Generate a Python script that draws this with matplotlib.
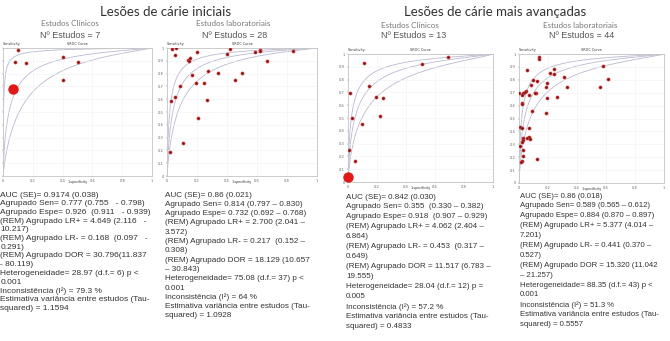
import numpy as np
import matplotlib.pyplot as plt

W, H = 670, 341

# ---- data (fpr = 1-specificity, sens = sensitivity) ----
p1_fpr = [0.103, 0.081, 0.154, 0.40, 0.50, 0.40]
p1_sens = [0.984, 0.888, 0.880, 0.932, 0.893, 0.747]
p1_big = ([0.065], [0.68])
p1_curves = [(1.9, 0.9), (2.7, 0.85), (4.6, 0.8)]   # (intercept, slope) in logit space

p2_fpr = [0.031, 0.058, 0.052, 0.143, 0.156, 0.148, 0.197, 0.166, 0.270, 0.342,
          0.195, 0.246, 0.085, 0.054, 0.027, 0.268, 0.208, 0.107, 0.022, 0.400,
          0.423, 0.499, 0.452, 0.586, 0.617, 0.622, 0.667, 0.837]
p2_sens = [0.992, 0.998, 0.945, 0.906, 0.920, 0.900, 0.966, 0.787, 0.820, 0.802,
           0.727, 0.729, 0.703, 0.620, 0.584, 0.596, 0.455, 0.260, 0.190, 0.953,
           0.992, 0.807, 0.747, 0.971, 0.984, 0.979, 0.900, 0.979]
p2_curves = [(2.3, 0.9), (2.9, 0.9), (3.6, 0.9)]

p3_fpr = [0.113, 0.014, 0.147, 0.193, 0.239, 0.030, 0.218, 0.099, 0.005, 0.050,
          0.512, 0.687]
p3_sens = [0.932, 0.693, 0.752, 0.666, 0.658, 0.502, 0.518, 0.450, 0.250, 0.164,
           0.922, 0.979]
p3_big = ([0.0], [0.04])
p3_curves = [(1.8, 0.8), (2.4, 0.8), (3.0, 0.8)]

p4_fpr = [0.139, 0.135, 0.053, 0.098, 0.121, 0.214, 0.244, 0.244, 0.313, 0.329,
          0.190, 0.185, 0.080, 0.050, 0.043, 0.025, 0.002, 0.018, 0.070, 0.116,
          0.112, 0.021, 0.021, 0.190, 0.260, 0.091, 0.185, 0.007, 0.023, 0.068,
          0.025, 0.030, 0.053, 0.068, 0.075, 0.018, 0.007, 0.030, 0.025, 0.021,
          0.016, 0.121, 0.578, 0.616, 0.560]
p4_sens = [0.979, 0.964, 0.876, 0.798, 0.793, 0.850, 0.847, 0.881, 0.819, 0.747,
           0.778, 0.742, 0.757, 0.715, 0.707, 0.695, 0.695, 0.682, 0.682, 0.695,
           0.700, 0.622, 0.612, 0.656, 0.663, 0.558, 0.545, 0.432, 0.429, 0.429,
           0.351, 0.333, 0.346, 0.359, 0.339, 0.320, 0.287, 0.256, 0.209, 0.172,
           0.163, 0.186, 0.907, 0.806, 0.747]
p4_curves = [(2.0, 0.8), (2.6, 0.8), (3.2, 0.8)]

txt1 = ["AUC (SE)= 0.9174 (0.038)",
        "Agrupado Sen= 0.777 (0.755   - 0.798)",
        "Agrupado Espe= 0.926  (0.911   - 0.939)",
        "(REM) Agrupado LR+ = 4.649 (2.116   -",
        "10.217)",
        "(REM) Agrupado LR- = 0.168  (0.097   -",
        "0.291)",
        "(REM) Agrupado DOR = 30.796(11.837",
        "- 80.119)",
        "Heterogeneidade= 28.97 (d.f.= 6) p <",
        "0.001",
        "Inconsistência (I²) = 79.3 %",
        "Estimativa variância entre estudos (Tau-",
        "squared) = 1.1594"]
txt2 = ["AUC (SE)= 0.86 (0.021)",
        "Agrupado Sen= 0.814 (0.797 – 0.830)",
        "Agrupado Espe= 0.732 (0.692 – 0.768)",
        "(REM) Agrupado LR+ = 2.700 (2.041 –",
        "3.572)",
        "(REM) Agrupado LR- = 0.217  (0.152 –",
        "0.308)",
        "(REM) Agrupado DOR = 18.129 (10.657",
        "– 30.843)",
        "Heterogeneidade= 75.08 (d.f.= 37) p <",
        "0.001",
        "Inconsistência (I²) = 64 %",
        "Estimativa variância entre estudos (Tau-",
        "squared) = 1.0928"]
txt3 = ["AUC (SE)= 0.842 (0.030)",
        "Agrupado Sen= 0.355  (0.330 – 0.382)",
        "Agrupado Espe= 0.918  (0.907 – 0.929)",
        "(REM) Agrupado LR+ = 4.062 (2.404 –",
        "6.864)",
        "(REM) Agrupado LR- = 0.453  (0.317 –",
        "0.649)",
        "(REM) Agrupado DOR = 11.517 (6.783 –",
        "19.555)",
        "Heterogeneidade= 28.04 (d.f.= 12) p =",
        "0.005",
        "Inconsistência (I²) = 57.2 %",
        "Estimativa variância entre estudos (Tau-",
        "squared) = 0.4833"]
txt4 = ["AUC (SE)= 0.86 (0.018)",
        "Agrupado Sen= 0.589 (0.565 – 0.612)",
        "Agrupado Espe= 0.884 (0.870 – 0.897)",
        "(REM) Agrupado LR+ = 5.377 (4.014 –",
        "7.201)",
        "(REM) Agrupado LR- = 0.441 (0.370 –",
        "0.527)",
        "(REM) Agrupado DOR = 15.320 (11.042",
        "– 21.257)",
        "Heterogeneidade= 88.35 (d.f.= 43) p <",
        "0.001",
        "Inconsistência (I²) = 51.3 %",
        "Estimativa variância entre estudos (Tau-",
        "squared) = 0.5557"]


def rect(l, t, r, b):
    return [l / W, 1 - b / H, (r - l) / W, (b - t) / H]


def put(x, y, s, **kw):
    fig.text(x / W, 1 - y / H, s, va='center', **kw)


def sroc(c, s):
    f = np.linspace(0.0005, 0.9995, 400)
    t = 1 / (1 + np.exp(-(c + s * np.log(f / (1 - f)))))
    return np.r_[0, f, 1], np.r_[0, t, 1]


def panel(box, fpr, sens, curves, big=None, ylabels=True):
    ax = fig.add_axes(rect(*box))
    for c, s in curves:
        x, y = sroc(c, s)
        ax.plot(x, y, color='#b9b9d2', lw=0.6, zorder=1)
    ax.plot(fpr, sens, 'o', ms=2.2, mfc='#7a1414', mec='#d23a3a', mew=0.5, zorder=3)
    if big is not None:
        ax.plot(big[0], big[1], 'o', ms=6.5, color='#e01818', zorder=4, clip_on=False)
    ax.set_xlim(0, 1)
    ax.set_ylim(0, 1)
    ax.set_xticks([0, 0.2, 0.4, 0.6, 0.8, 1])
    ax.set_xticklabels(['0', '0.2', '0.4', '0.6', '0.8', '1'])
    ax.set_yticks(np.arange(0, 1.01, 0.1))
    if ylabels:
        ax.set_yticklabels(['0'] + ['%.1f' % v for v in np.arange(0.1, 0.95, 0.1)] + ['1'])
    else:
        ax.set_yticklabels([])
    ax.tick_params(labelsize=2.6, colors='#666', length=1, width=0.3, pad=1.2)
    ax.grid(color='#f2f2f2', lw=0.4)
    for sp in ax.spines.values():
        sp.set_color('#c4c4c4')
        sp.set_linewidth(0.6)
    ax.text(0, 1.015, 'Sensitivity', transform=ax.transAxes, fontsize=2.4, color='#333',
            ha='left', va='bottom')
    ax.text(0.5, 1.015, 'SROC Curve', transform=ax.transAxes, fontsize=2.4, color='#333',
            ha='center', va='bottom')
    ax.text(0.5, -0.05, '1-specificity', transform=ax.transAxes, fontsize=2.4,
            color='#333', ha='center', va='center')
    return ax


fig = plt.figure(figsize=(W / 100, H / 100), dpi=100)
fig.patch.set_facecolor('white')

panel((3, 48, 152, 176), p1_fpr, p1_sens, p1_curves, p1_big, ylabels=False)
panel((167, 48, 317, 176), p2_fpr, p2_sens, p2_curves)
panel((348, 54, 493, 182), p3_fpr, p3_sens, p3_curves, p3_big)
panel((519, 54, 664, 183), p4_fpr, p4_sens, p4_curves)

tfont = 'Lato'
put(166, 12, 'Lesões de cárie iniciais', ha='center', fontsize=9.5, family=tfont, color='#333')
put(495, 12, 'Lesões de cárie mais avançadas', ha='center', fontsize=9.5, family=tfont, color='#333')

put(70, 24, 'Estudos Clínicos', ha='center', fontsize=5.8, family=tfont, color='#777')
put(70, 35, 'Nº Estudos = 7', ha='center', fontsize=6.5, family='Liberation Sans', color='#555')
put(233, 24, 'Estudos laboratoriais', ha='center', fontsize=5.8, family=tfont, color='#777')
put(235, 35, 'Nº Estudos = 28', ha='center', fontsize=6.5, family='Liberation Sans', color='#555')
put(410, 25, 'Estudos Clínicos', ha='center', fontsize=5.8, family=tfont, color='#777')
put(414, 36, 'Nº Estudos = 13', ha='center', fontsize=6.5, family='Liberation Sans', color='#555')
put(580, 25, 'Estudos laboratoriais', ha='center', fontsize=5.8, family=tfont, color='#777')
put(582, 36, 'Nº Estudos = 44', ha='center', fontsize=6.5, family='Liberation Sans', color='#555')

blocks = [(txt1, 0.5, 195, 8.7, 6.0), (txt2, 165, 195, 9.3, 5.9),
          (txt3, 346, 197, 10.0, 5.8), (txt4, 520, 196, 9.9, 5.6)]
for lines, x0, y0, step, fs in blocks:
    for i, s in enumerate(lines):
        put(x0, y0 + i * step, s, ha='left', fontsize=fs, family='Liberation Sans',
            color='#333')

fig.savefig('out.png', dpi=100)
